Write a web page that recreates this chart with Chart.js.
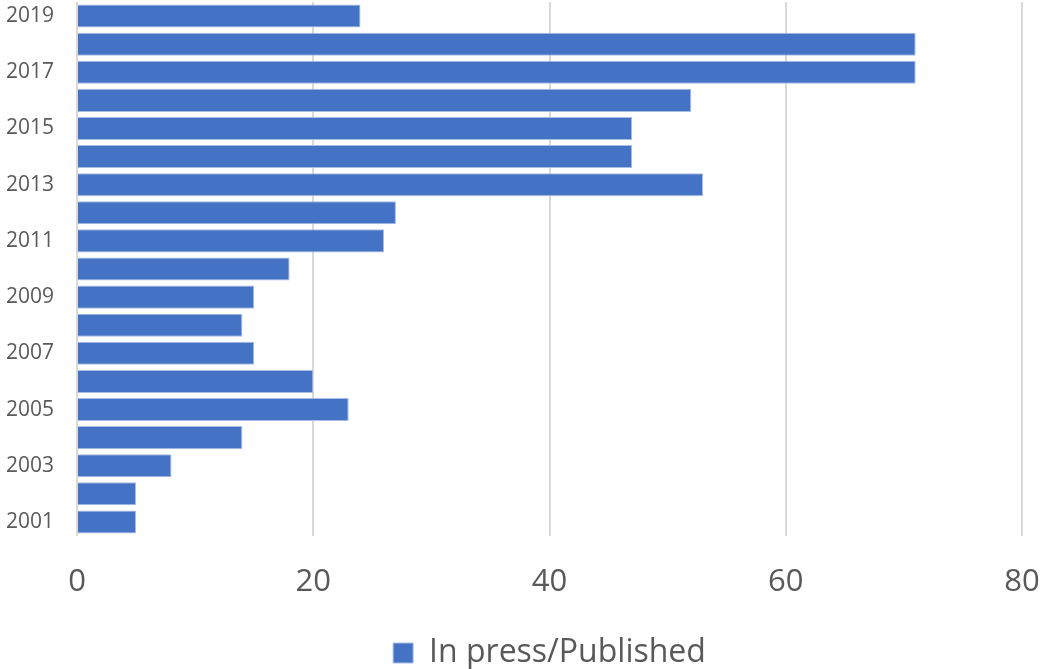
<!DOCTYPE html>
<html>
<head>
<meta charset="utf-8">
<script src="https://cdn.jsdelivr.net/npm/chart.js@4"></script>
<style>
html,body{margin:0;padding:0;background:#fff;}
#wrap{width:1043px;height:669px;position:relative;}
</style>
</head>
<body>
<div id="wrap"><canvas id="c" width="1043" height="669"></canvas></div>
<script>
const years = ['2019','2018','2017','2016','2015','2014','2013','2012','2011','2010','2009','2008','2007','2006','2005','2004','2003','2002','2001'];
const published = [24,71,71,52,47,47,53,27,26,18,15,14,15,20,23,14,8,5,5];
const xTicks = [0,20,40,60,80];
const seriesName = 'In press/Published';

const FONT = "'Open Sans', 'Noto Sans', sans-serif";
new Chart(document.getElementById('c'), {
  type: 'bar',
  data: {
    labels: years,
    datasets: [{
      label: seriesName,
      data: published,
      backgroundColor: '#4472C4',
      borderColor: '#a9bce6',
      borderWidth: 1,
      barPercentage: 0.82,
      categoryPercentage: 1.0
    }]
  },
  options: {
    indexAxis: 'y',
    responsive: false,
    animation: false,
    layout: { padding: { top: 2, right: 21, left: 6, bottom: -10 } },
    plugins: {
      tooltip: { enabled: false },
      legend: {
        position: 'bottom',
        fullSize: false,
        labels: {
          font: { family: FONT, size: 32, lineHeight: 1.0 },
          color: '#595959',
          boxWidth: 20,
          boxHeight: 20,
          padding: 2
        }
      }
    },
    scales: {
      x: {
        min: 0, max: 80,
        afterBuildTicks: s => { s.ticks = xTicks.map(v => ({ value: v })); },
        ticks: {
          font: { family: FONT, size: 31 },
          color: '#595959',
          padding: 28,
          maxRotation: 0
        },
        grid: { color: '#d9d9d9', lineWidth: 2, drawTicks: false },
        border: { display: false },
        afterFit: s => { s.height = 99; s.paddingLeft = 0; s.paddingRight = 0; }
      },
      y: {
        ticks: {
          autoSkip: false,
          font: { family: FONT, size: 21 },
          color: '#595959',
          padding: 0,
          crossAlign: 'far',
          callback: function(v, i) { return (parseInt(years[i]) % 2 === 1) ? years[i] : ''; }
        },
        grid: { display: false, drawTicks: false },
        border: { display: false },
        afterFit: s => { s.width = 71; s.paddingTop = 0; s.paddingBottom = 0; }
      }
    }
  }
});
</script>
</body>
</html>
